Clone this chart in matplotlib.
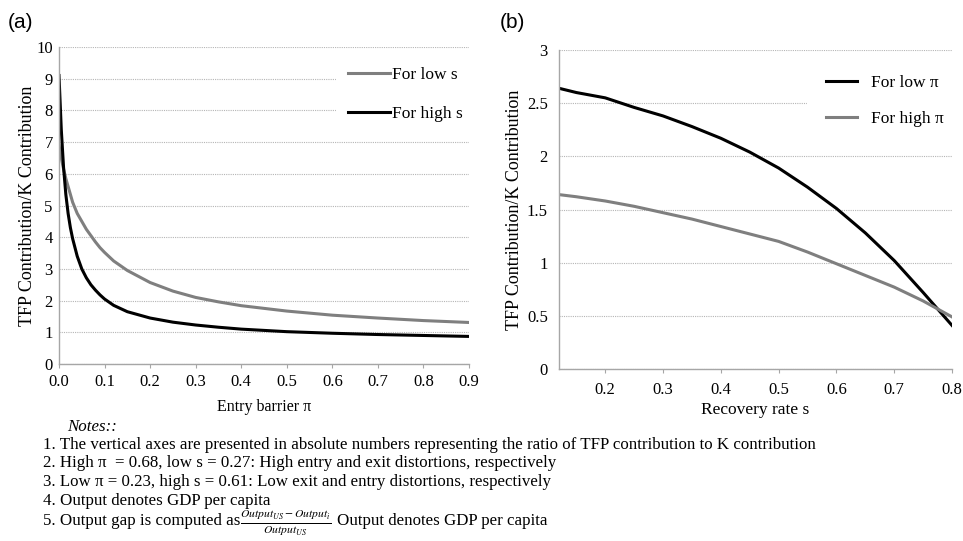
import matplotlib
matplotlib.use("Agg")
import matplotlib.pyplot as plt

plt.rcParams["font.family"] = ["Liberation Serif", "DejaVu Serif"]
plt.rcParams["mathtext.fontset"] = "stix"

# --- Data --------------------------------------------------------------------
entry_barrier = [0.0, 0.005, 0.01, 0.015, 0.02, 0.025, 0.03, 0.04, 0.05, 0.06,
                 0.07, 0.08, 0.09, 0.1, 0.12, 0.15, 0.2, 0.25, 0.3, 0.35, 0.4,
                 0.5, 0.6, 0.7, 0.8, 0.9]
ratio_low_s = [6.9, 6.5, 6.15, 5.85, 5.6, 5.35, 5.1, 4.75, 4.5, 4.25,
               4.05, 3.85, 3.67, 3.52, 3.25, 2.95, 2.57, 2.3, 2.1, 1.96, 1.84,
               1.67, 1.54, 1.45, 1.37, 1.31]
ratio_high_s = [9.1, 7.4, 6.2, 5.35, 4.75, 4.3, 3.95, 3.4, 3.0, 2.72,
                2.5, 2.33, 2.18, 2.05, 1.85, 1.65, 1.45, 1.32, 1.23, 1.16, 1.1,
                1.02, 0.97, 0.93, 0.9, 0.87]

recovery_rate = [0.12, 0.15, 0.2, 0.25, 0.3, 0.35, 0.4, 0.45, 0.5, 0.55,
                 0.6, 0.65, 0.7, 0.75, 0.8]
ratio_low_pi = [2.64, 2.6, 2.55, 2.46, 2.38, 2.28, 2.17, 2.04, 1.89, 1.71,
                1.51, 1.28, 1.02, 0.72, 0.41]
ratio_high_pi = [1.64, 1.62, 1.58, 1.53, 1.47, 1.41, 1.34, 1.27, 1.2, 1.1,
                 0.99, 0.88, 0.77, 0.64, 0.49]

a_xticks = [0.0, 0.1, 0.2, 0.3, 0.4, 0.5, 0.6, 0.7, 0.8, 0.9]
a_yticks = list(range(0, 11))
b_xticks = [0.2, 0.3, 0.4, 0.5, 0.6, 0.7, 0.8]
b_yticks = [0, 0.5, 1, 1.5, 2, 2.5, 3]
b_ytick_labels = ["0", "0.5", "1", "1.5", "2", "2.5", "3"]

notes = [
    "1. The vertical axes are presented in absolute numbers representing the ratio of TFP contribution to K contribution",
    "2. High \u03c0  = 0.68, low s = 0.27: High entry and exit distortions, respectively",
    "3. Low \u03c0 = 0.23, high s = 0.61: Low exit and entry distortions, respectively",
    "4. Output denotes GDP per capita",
]

GRAY = "#7f7f7f"
SPINE = "#a6a6a6"
W, H = 963, 541
NOTE_FS = 12.15


def style_axes(ax):
    for side in ("top", "right"):
        ax.spines[side].set_visible(False)
    for side in ("left", "bottom"):
        ax.spines[side].set_color(SPINE)
        ax.spines[side].set_linewidth(1.0)
    ax.grid(axis="y", color="#b5b5b5", linestyle=(0, (1, 1)), linewidth=0.8)
    ax.set_axisbelow(True)
    ax.tick_params(axis="x", direction="out", length=3, color=SPINE,
                   labelsize=12, pad=4)
    ax.tick_params(axis="y", length=0, labelsize=12, pad=4.5)


fig = plt.figure(figsize=(W / 100, H / 100), dpi=100, facecolor="white")

# --- Panel (a) ----------------------------------------------------------------
ax1 = fig.add_axes([59 / W, 1 - 364 / H, 410 / W, 317 / H])
style_axes(ax1)
ax1.plot(entry_barrier, ratio_low_s, color=GRAY, lw=2.2, label="For low s")
ax1.plot(entry_barrier, ratio_high_s, color="black", lw=2.2, label="For high s")
ax1.set_xlim(0, 0.9)
ax1.set_ylim(0, 10)
ax1.set_xticks(a_xticks)
ax1.set_xticklabels([f"{v:.1f}" for v in a_xticks])
ax1.set_yticks(a_yticks)
ax1.set_xlabel("Entry barrier \u03c0", fontsize=11.5, labelpad=7)
ax1.set_ylabel("TFP Contribution/K Contribution", fontsize=13, labelpad=0)
leg1 = ax1.legend(loc="center", bbox_to_anchor=(0.845, 0.85), fontsize=12.5,
                  frameon=True, facecolor="white", edgecolor="none",
                  framealpha=1, fancybox=False, handlelength=2.4,
                  handletextpad=0.15, labelspacing=1.3, borderpad=0.7)

# --- Panel (b) ----------------------------------------------------------------
ax2 = fig.add_axes([559 / W, 1 - 369 / H, 393 / W, 319 / H])
style_axes(ax2)
ax2.plot(recovery_rate, ratio_low_pi, color="black", lw=2.2, label="For low \u03c0")
ax2.plot(recovery_rate, ratio_high_pi, color=GRAY, lw=2.2, label="For high \u03c0")
ax2.set_xlim(0.12, 0.8)
ax2.set_ylim(0, 3)
ax2.set_xticks(b_xticks)
ax2.set_xticklabels([f"{v:.1f}" for v in b_xticks])
ax2.set_yticks(b_yticks)
ax2.set_yticklabels(b_ytick_labels)
ax2.tick_params(axis="x", pad=6)
ax2.tick_params(axis="y", pad=8)
ax2.set_xlabel("Recovery rate s", fontsize=12.5, labelpad=3)
ax2.set_ylabel("TFP Contribution/K Contribution", fontsize=13, labelpad=3)
leg2 = ax2.legend(loc="center", bbox_to_anchor=(0.83, 0.84), fontsize=12.5,
                  frameon=True, facecolor="white", edgecolor="none",
                  framealpha=1, fancybox=False, handlelength=1.8,
                  handletextpad=0.8, labelspacing=1.1, borderpad=1.1)

# --- Panel letters ------------------------------------------------------------
fig.text(8 / W, 1 - 22 / H, "(a)", family="Liberation Sans", fontsize=15,
         va="center", ha="left")
fig.text(500 / W, 1 - 22 / H, "(b)", family="Liberation Sans", fontsize=15,
         va="center", ha="left")

# --- Notes --------------------------------------------------------------------
fig.text(67 / W, 1 - 427 / H, "Notes::", fontsize=NOTE_FS, style="italic",
         va="center", ha="left")
note_y = [445, 463, 482, 501]
for y, line in zip(note_y, notes):
    fig.text(43 / W, 1 - y / H, line, fontsize=NOTE_FS, va="center", ha="left")
fig.text(43 / W, 1 - 521 / H, "5. Output gap is computed as", fontsize=NOTE_FS,
         va="center", ha="left")
fig.text(240 / W, 1 - 523 / H,
         r"$\frac{\mathbf{\mathit{Output}}_{\mathit{US}}-\mathbf{\mathit{Output}}_{i}}"
         r"{\mathbf{\mathit{Output}}_{\mathit{US}}}$",
         fontsize=12, va="center", ha="left")
fig.text(337 / W, 1 - 521 / H, "Output denotes GDP per capita", fontsize=NOTE_FS,
         va="center", ha="left")

fig.savefig("out.png", dpi=100, facecolor="white")
